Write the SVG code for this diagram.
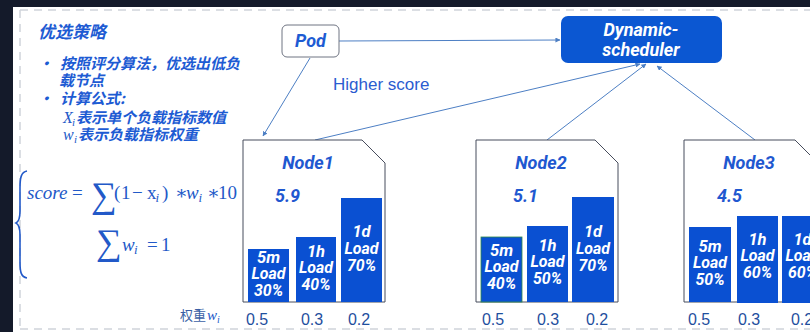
<svg xmlns="http://www.w3.org/2000/svg" width="810" height="332" viewBox="0 0 810 332">
  <defs>
    <style>
      .cjk { font-family: "Noto Sans CJK SC", "Noto Sans", sans-serif; font-weight: 700; font-style: italic; fill: #1d5bd3; }
      .math { font-family: "Liberation Serif", "DejaVu Serif", serif; fill: #2259c8; }
      .label { font-family: Roboto, "Open Sans", sans-serif; font-weight: 700; font-style: italic; }
      .title { fill: #1f58d0; font-size: 18px; }
      .bar { fill: #0a50d2; }
      .bartxt { fill: #ffffff; font-size: 16.5px; text-anchor: middle; }
      .weight { font-family: "Liberation Sans", Arial, sans-serif; font-size: 16px; fill: #1f4f9e; text-anchor: middle; }
      .frame { fill: #ffffff; stroke: #474c5c; stroke-width: 1; }
      .edge { stroke: #4d7fc4; stroke-width: 1; fill: none; marker-end: url(#arrow); }
      .dash { stroke: #cfd3da; stroke-width: 1.5; stroke-dasharray: 8 6; fill: none; }
    </style>
    <marker id="arrow" viewBox="0 0 6 6" refX="5.5" refY="3" markerWidth="5" markerHeight="5" orient="auto">
      <path d="M0,0 L6,3 L0,6 Z" fill="#4d7fc4"/>
    </marker>
  </defs>

  <!-- page background and outer frame -->
  <rect x="0" y="0" width="810" height="332" fill="#141a2a"/>
  <rect x="13" y="7" width="797" height="325" fill="#ffffff"/>
  <line class="dash" x1="20" y1="10" x2="810" y2="10"/>
  <line class="dash" x1="20" y1="10" x2="20" y2="330"/>
  <line class="dash" x1="20" y1="329" x2="810" y2="329"/>

  <!-- strategy description -->
  <g id="strategy">
    <text class="cjk" x="38" y="38" font-size="17">优选策略</text>
    <text class="cjk" x="38" y="69" font-size="15">•</text>
    <text class="cjk" x="60" y="69" font-size="15">按照评分算法，优选出低负</text>
    <text class="cjk" x="59" y="86" font-size="15">载节点</text>
    <text class="cjk" x="38" y="104" font-size="15">•</text>
    <text class="cjk" x="60" y="104" font-size="15">计算公式:</text>
    <text class="math" x="63" y="123" font-size="16" font-style="italic">X</text>
    <text class="math" x="72" y="126" font-size="11" font-style="italic">i</text>
    <text class="cjk" x="76" y="123" font-size="15">表示单个负载指标数值</text>
    <text class="math" x="63" y="140" font-size="16" font-style="italic">w</text>
    <text class="math" x="74" y="143" font-size="11" font-style="italic">i</text>
    <text class="cjk" x="78" y="140" font-size="15">表示负载指标权重</text>
  </g>

  <!-- scoring formula -->
  <g id="formula">
    <path d="M27,171 C21,172 20,178 20,188 L20,211 C20,218 18,222 16,223 C18,224 20,228 20,235 L20,262 C20,272 21,277 27,278" fill="none" stroke="#2259c8" stroke-width="1.6"/>
    <text class="math" font-size="19" y="199">
      <tspan x="27" font-style="italic">score</tspan>
      <tspan x="72">=</tspan>
      <tspan x="114">(</tspan>
      <tspan x="121">1</tspan>
      <tspan x="132">−</tspan>
      <tspan x="147">x</tspan>
      <tspan x="162">)</tspan>
      <tspan x="175">∗</tspan>
      <tspan x="186" font-style="italic">w</tspan>
      <tspan x="207">∗</tspan>
      <tspan x="218">10</tspan>
    </text>
    <text class="math" font-size="13" font-style="italic" y="202">
      <tspan x="155.5">i</tspan>
      <tspan x="198.5">i</tspan>
    </text>
    <text class="math" font-size="36" x="91" y="207">∑</text>

    <text class="math" font-size="36" x="96" y="254">∑</text>
    <text class="math" font-size="19" y="251">
      <tspan x="122" font-style="italic">w</tspan>
      <tspan x="147">=</tspan>
      <tspan x="161">1</tspan>
    </text>
    <text class="math" font-size="13" font-style="italic" x="134" y="254">i</text>

    <text x="180" y="320" style="font-family: 'Noto Sans CJK SC', 'Noto Sans', sans-serif; font-size: 13px; fill: #3b5fa5;">权重</text>
    <text class="math" x="207" y="320" font-size="15" font-style="italic">w</text>
    <text class="math" x="217" y="323" font-size="10" font-style="italic">i</text>
  </g>

  <!-- connectors -->
  <g id="connectors">
    <line class="edge" x1="339" y1="41" x2="560" y2="40"/>
    <line class="edge" x1="310" y1="58" x2="263" y2="136"/>
    <line class="edge" x1="315" y1="140" x2="640" y2="64"/>
    <line class="edge" x1="547" y1="140" x2="646" y2="64"/>
    <line class="edge" x1="755" y1="140" x2="657" y2="66"/>
  </g>
  <text x="333" y="90" font-family="Liberation Sans, Arial, sans-serif" font-size="17" fill="#2b5cd0">Higher score</text>

  <!-- Pod -->
  <g id="pod">
    <rect x="282" y="25" width="57" height="32" rx="5" fill="#ffffff" stroke="#6f7482" stroke-width="1"/>
    <text class="label" x="310.5" y="47" font-size="18" fill="#1d5bd3" text-anchor="middle">Pod</text>
  </g>

  <!-- Dynamic-scheduler -->
  <g id="scheduler">
    <rect x="561" y="16" width="161" height="47" rx="7" fill="#0b57d2"/>
    <text class="label" x="641" y="36" font-size="18" fill="#ffffff" text-anchor="middle">Dynamic-</text>
    <text class="label" x="641" y="56" font-size="18" fill="#ffffff" text-anchor="middle">scheduler</text>
  </g>

  <!-- Node1 -->
  <g id="node1">
    <path class="frame" d="M243,140 H362 L385,163 V302 H243 Z"/>
    <text class="label title" x="308" y="169" text-anchor="middle">Node1</text>
    <text class="label title" x="275" y="202">5.9</text>
    <rect class="bar" x="248" y="249" width="41" height="53"/>
    <rect class="bar" x="296" y="237" width="40" height="65"/>
    <rect class="bar" x="341" y="198" width="41" height="104"/>
    <text class="label bartxt" x="268.5" y="263">5m</text>
    <text class="label bartxt" x="268.5" y="279" textLength="34" lengthAdjust="spacingAndGlyphs">Load</text>
    <text class="label bartxt" x="268.5" y="296" textLength="29" lengthAdjust="spacingAndGlyphs">30%</text>
    <text class="label bartxt" x="316" y="257">1h</text>
    <text class="label bartxt" x="316" y="273" textLength="34" lengthAdjust="spacingAndGlyphs">Load</text>
    <text class="label bartxt" x="316" y="290" textLength="29" lengthAdjust="spacingAndGlyphs">40%</text>
    <text class="label bartxt" x="361.5" y="237">1d</text>
    <text class="label bartxt" x="361.5" y="254" textLength="34" lengthAdjust="spacingAndGlyphs">Load</text>
    <text class="label bartxt" x="361.5" y="271" textLength="29" lengthAdjust="spacingAndGlyphs">70%</text>
    <text class="weight" x="257" y="325">0.5</text>
    <text class="weight" x="312" y="325">0.3</text>
    <text class="weight" x="359" y="325">0.2</text>
  </g>

  <!-- Node2 -->
  <g id="node2">
    <path class="frame" d="M476,140 H595 L618,163 V302 H476 Z"/>
    <text class="label title" x="541" y="169" text-anchor="middle">Node2</text>
    <text class="label title" x="513" y="202">5.1</text>
    <rect class="bar" x="481" y="237" width="41" height="65" stroke="#2f8a4a" stroke-width="0.8"/>
    <rect class="bar" x="527" y="226" width="41" height="76"/>
    <rect class="bar" x="572" y="197" width="42" height="105"/>
    <text class="label bartxt" x="501.5" y="256">5m</text>
    <text class="label bartxt" x="501.5" y="272" textLength="34" lengthAdjust="spacingAndGlyphs">Load</text>
    <text class="label bartxt" x="501.5" y="289" textLength="29" lengthAdjust="spacingAndGlyphs">40%</text>
    <text class="label bartxt" x="547.5" y="251">1h</text>
    <text class="label bartxt" x="547.5" y="267" textLength="34" lengthAdjust="spacingAndGlyphs">Load</text>
    <text class="label bartxt" x="547.5" y="284" textLength="29" lengthAdjust="spacingAndGlyphs">50%</text>
    <text class="label bartxt" x="593" y="237">1d</text>
    <text class="label bartxt" x="593" y="254" textLength="34" lengthAdjust="spacingAndGlyphs">Load</text>
    <text class="label bartxt" x="593" y="271" textLength="29" lengthAdjust="spacingAndGlyphs">70%</text>
    <text class="weight" x="493" y="325">0.5</text>
    <text class="weight" x="548" y="325">0.3</text>
    <text class="weight" x="597" y="325">0.2</text>
  </g>

  <!-- Node3 -->
  <g id="node3">
    <path class="frame" d="M684,140 H795 L818,163 V302 H684 Z"/>
    <text class="label title" x="749" y="169" text-anchor="middle">Node3</text>
    <text class="label title" x="717" y="202">4.5</text>
    <rect class="bar" x="689" y="227" width="42" height="75"/>
    <rect class="bar" x="737" y="216" width="41" height="87"/>
    <rect class="bar" x="782" y="216" width="41" height="87"/>
    <text class="label bartxt" x="710" y="252">5m</text>
    <text class="label bartxt" x="710" y="268" textLength="34" lengthAdjust="spacingAndGlyphs">Load</text>
    <text class="label bartxt" x="710" y="285" textLength="29" lengthAdjust="spacingAndGlyphs">50%</text>
    <text class="label bartxt" x="757.5" y="245">1h</text>
    <text class="label bartxt" x="757.5" y="261" textLength="34" lengthAdjust="spacingAndGlyphs">Load</text>
    <text class="label bartxt" x="757.5" y="278" textLength="29" lengthAdjust="spacingAndGlyphs">60%</text>
    <text class="label bartxt" x="802.5" y="245">1d</text>
    <text class="label bartxt" x="802.5" y="261" textLength="34" lengthAdjust="spacingAndGlyphs">Load</text>
    <text class="label bartxt" x="802.5" y="278" textLength="29" lengthAdjust="spacingAndGlyphs">60%</text>
    <text class="weight" x="699" y="325">0.5</text>
    <text class="weight" x="749" y="325">0.3</text>
    <text class="weight" x="802" y="325">0.2</text>
  </g>
</svg>
